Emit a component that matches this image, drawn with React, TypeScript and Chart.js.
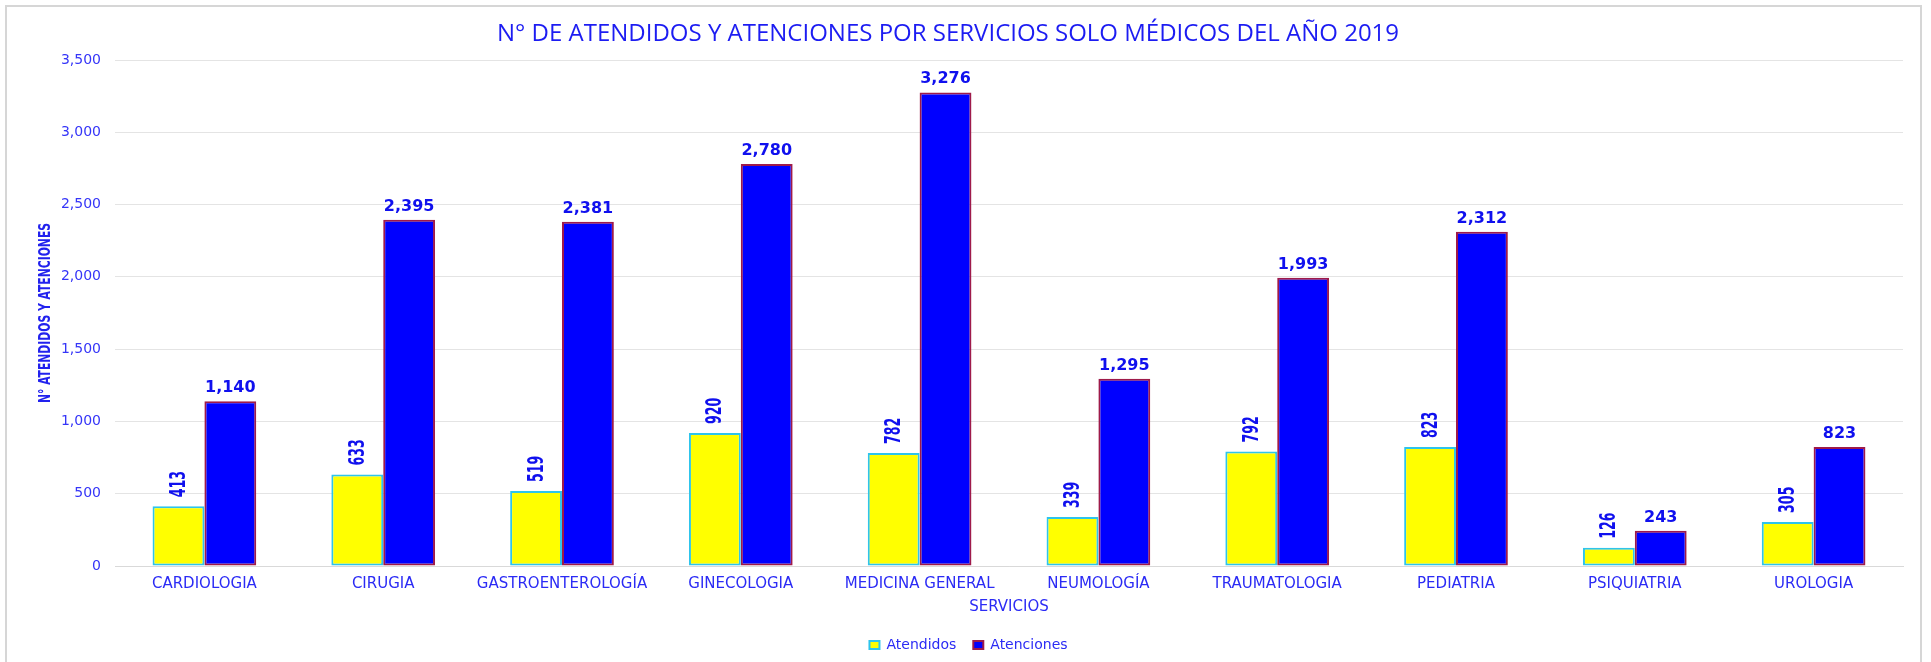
import { useEffect, useRef } from "react";
import { Chart, registerables } from "chart.js";

Chart.register(...registerables);

const titleText = "N° DE ATENDIDOS Y ATENCIONES POR SERVICIOS SOLO MÉDICOS DEL AÑO 2019";
const xAxisTitle = "SERVICIOS";
const yAxisTitle = "N° ATENDIDOS Y ATENCIONES";

const categories = [
  "CARDIOLOGIA",
  "CIRUGIA",
  "GASTROENTEROLOGÍA",
  "GINECOLOGIA",
  "MEDICINA GENERAL",
  "NEUMOLOGÍA",
  "TRAUMATOLOGIA",
  "PEDIATRIA",
  "PSIQUIATRIA",
  "UROLOGIA",
];

const atendidos = [413, 633, 519, 920, 782, 339, 792, 823, 126, 305];
const atenciones = [1140, 2395, 2381, 2780, 3276, 1295, 1993, 2312, 243, 823];

const yMin = 0;
const yMax = 3500;
const yStep = 500;

const BLUE_TEXT = "#2b2bf5";
const LABEL_BLUE = "#1010ee";

const framePlugin = {
  id: "framePlugin",
  beforeDraw(chart: any) {
    const ctx = chart.ctx;
    ctx.save();
    ctx.fillStyle = "#ffffff";
    ctx.fillRect(0, 0, chart.width, chart.height);
    ctx.strokeStyle = "#d6d6d6";
    ctx.lineWidth = 2;
    ctx.strokeRect(6, 6, 1915, 720);
    ctx.restore();
  },
};

const textPlugin = {
  id: "textPlugin",
  afterDraw(chart: any) {
    const ctx = chart.ctx;
    const area = chart.chartArea;
    ctx.save();
    // chart title
    ctx.fillStyle = "#1c1cf2";
    ctx.font = "24px 'Open Sans', sans-serif";
    ctx.textAlign = "center";
    ctx.textBaseline = "middle";
    ctx.fillText(titleText, 948, 34);
    // y axis title (condensed, rotated)
    ctx.translate(46, (area.top + area.bottom) / 2);
    ctx.rotate(-Math.PI / 2);
    ctx.scale(0.75, 1);
    ctx.fillStyle = "#2222ee";
    ctx.font = "bold 16px 'DejaVu Sans Condensed', 'DejaVu Sans', sans-serif";
    ctx.fillText(yAxisTitle, 0, 0);
    ctx.restore();
  },
};

const valueLabels = {
  id: "valueLabels",
  afterDatasetsDraw(chart: any) {
    const ctx = chart.ctx;
    ctx.save();
    ctx.fillStyle = LABEL_BLUE;
    chart.data.datasets.forEach((ds: any, di: number) => {
      const meta = chart.getDatasetMeta(di);
      meta.data.forEach((bar: any, i: number) => {
        const v = ds.data[i] as number;
        const txt = v.toLocaleString("en-US");
        if (di === 0) {
          ctx.save();
          ctx.translate(bar.x + 1, bar.y - 9);
          ctx.rotate(-Math.PI / 2);
          ctx.scale(0.6, 1);
          ctx.font = "bold 21px 'DejaVu Sans', sans-serif";
          ctx.textAlign = "left";
          ctx.textBaseline = "middle";
          ctx.fillText(txt, 0, 0);
          ctx.restore();
        } else {
          ctx.font = "bold 16px 'DejaVu Sans', sans-serif";
          ctx.textAlign = "center";
          ctx.textBaseline = "alphabetic";
          ctx.fillText(txt, bar.x, bar.y - 9);
        }
      });
    });
    ctx.restore();
  },
};

export default function App() {
  const canvasRef = useRef<HTMLCanvasElement | null>(null);

  useEffect(() => {
    if (!canvasRef.current) return;
    const chart = new Chart(canvasRef.current, {
      type: "bar",
      data: {
        labels: categories,
        datasets: [
          {
            label: "Atendidos",
            data: atendidos,
            backgroundColor: "#ffff00",
            borderColor: "#2ec4ec",
            borderWidth: 2,
            borderSkipped: false,
            categoryPercentage: 0.58,
            barPercentage: 1,
          },
          {
            label: "Atenciones",
            data: atenciones,
            backgroundColor: "#0000ff",
            borderColor: "#9e1a4a",
            borderWidth: 2,
            borderSkipped: false,
            categoryPercentage: 0.58,
            barPercentage: 1,
          },
        ],
      },
      options: {
        responsive: false,
        animation: false,
        devicePixelRatio: 1,
        layout: { padding: { left: 34, right: 28, top: 60, bottom: 0 } },
        plugins: {
          title: { display: false },
          legend: {
            display: true,
            position: "bottom",
            labels: {
              boxWidth: 10,
              boxHeight: 8,
              padding: 17,
              color: BLUE_TEXT,
              font: { family: "'DejaVu Sans', sans-serif", size: 14 },
            },
          },
          tooltip: { enabled: false },
        },
        scales: {
          x: {
            grid: { display: false, drawTicks: false },
            border: { display: true, color: "#d9d9d9", width: 1 },
            ticks: {
              color: BLUE_TEXT,
              font: { family: "'DejaVu Sans', sans-serif", size: 15 },
              padding: 9,
              maxRotation: 0,
              minRotation: 0,
              autoSkip: false,
            },
            title: {
              display: true,
              text: xAxisTitle,
              color: BLUE_TEXT,
              font: { family: "'DejaVu Sans', sans-serif", size: 15 },
              padding: { top: 0, bottom: 5 },
            },
            afterFit(scale: any) {
              scale.height = 55;
            },
          },
          y: {
            min: yMin,
            max: yMax,
            grid: { color: "#e4e4e4", drawTicks: false, lineWidth: 1 },
            border: { display: false },
            ticks: {
              stepSize: yStep,
              color: "#3535f8",
              font: { family: "'DejaVu Sans', sans-serif", size: 14 },
              padding: 14,
              callback: (v: any) => Number(v).toLocaleString("en-US"),
            },
            afterFit(scale: any) {
              scale.width = 81;
            },
          },
        },
      },
      plugins: [framePlugin, valueLabels, textPlugin],
    });
    return () => chart.destroy();
  }, []);

  return (
    <div style={{ position: "fixed", left: 0, top: 0, width: 1931, height: 662, background: "#fff" }}>
      <canvas ref={canvasRef} width={1931} height={662} style={{ display: "block", width: 1931, height: 662 }} />
    </div>
  );
}
